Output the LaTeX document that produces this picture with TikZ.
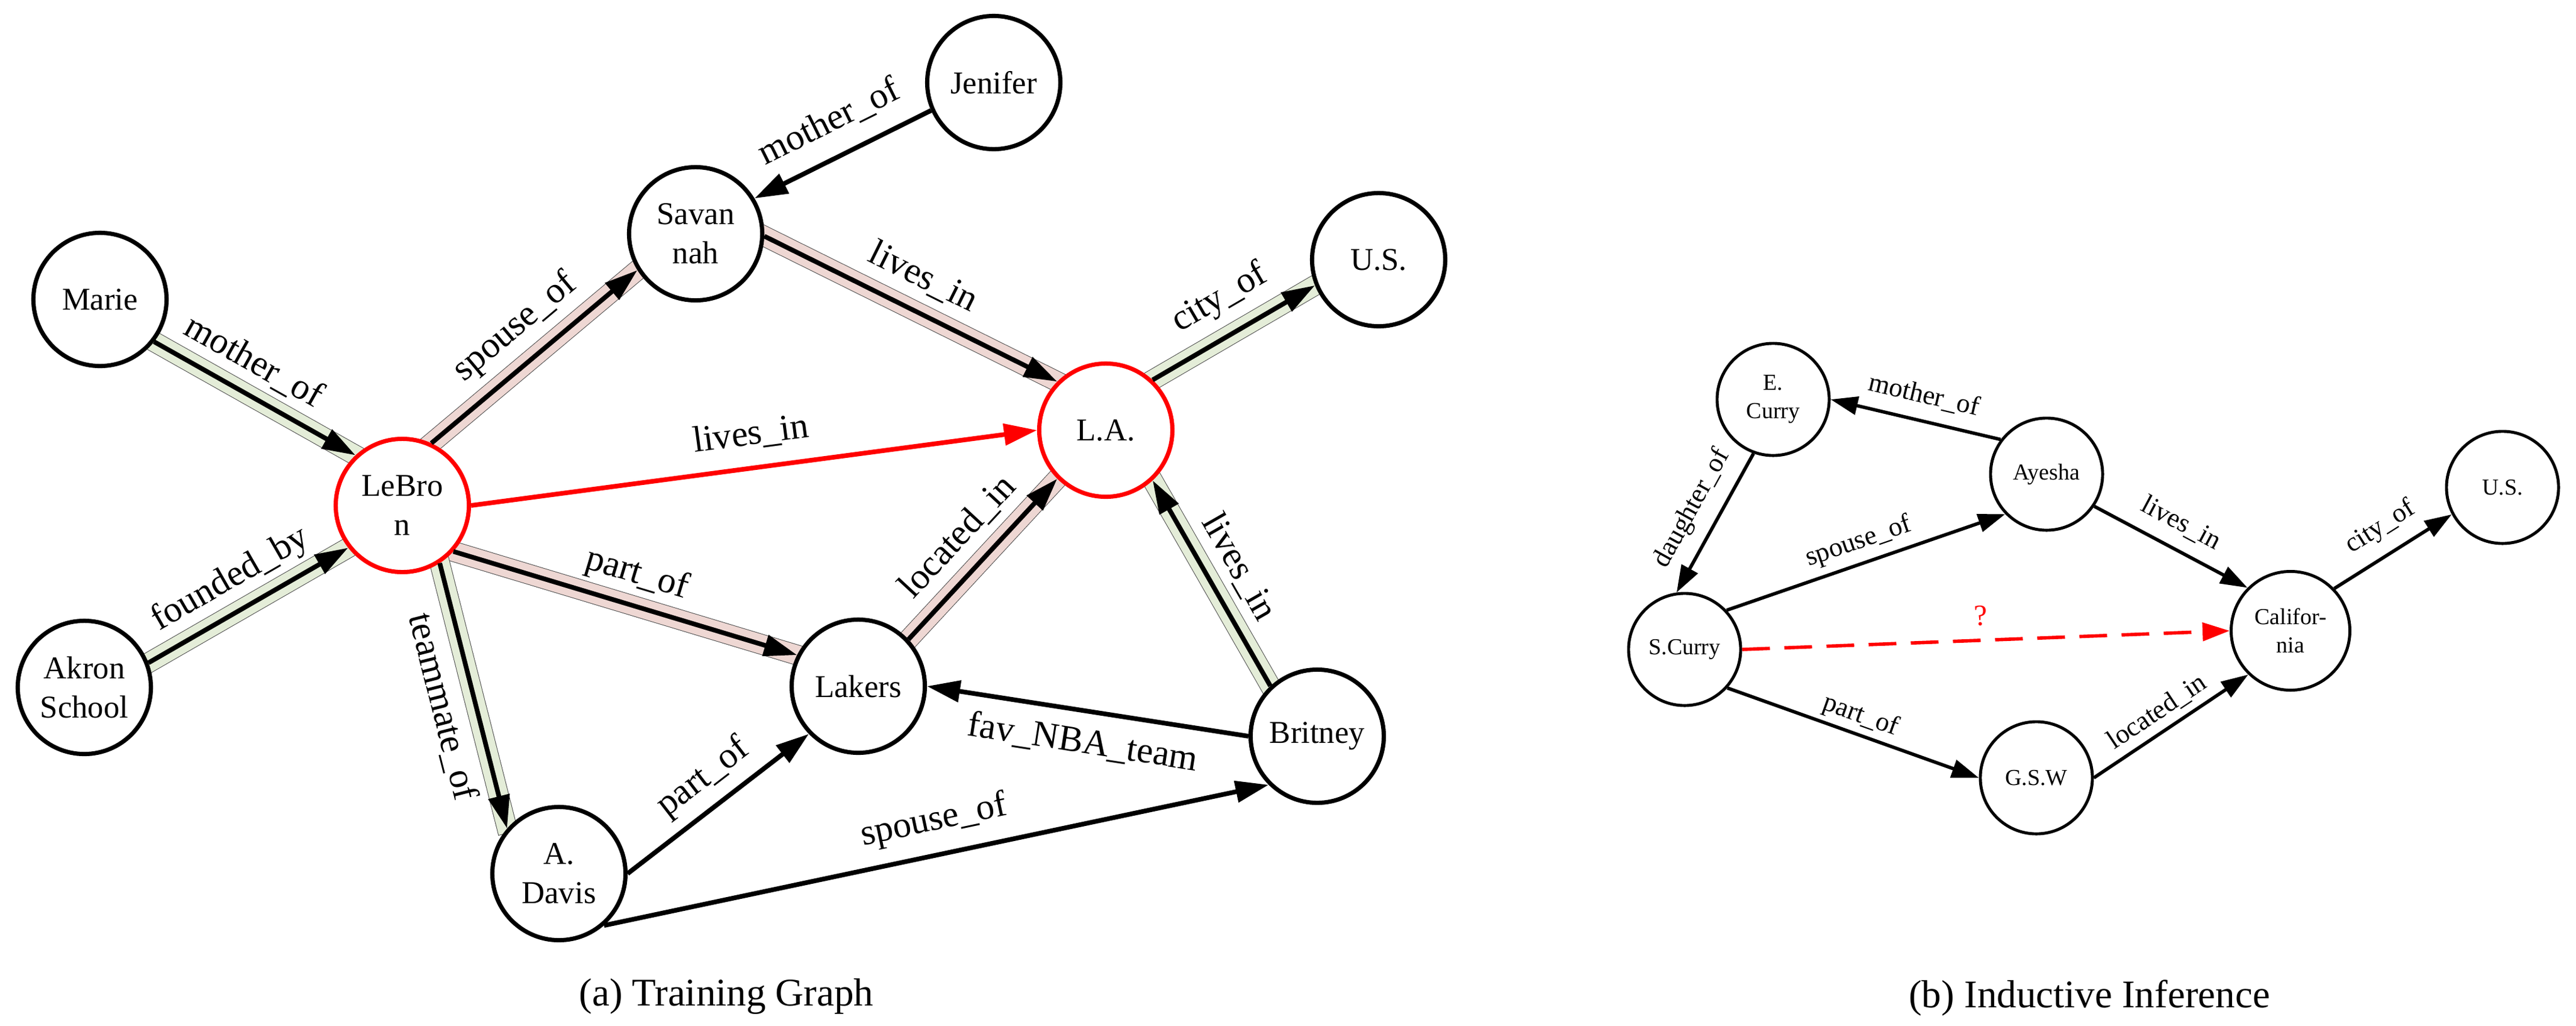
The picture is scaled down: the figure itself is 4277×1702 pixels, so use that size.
\documentclass[tikz,border=0pt]{standalone}
\usepackage{fontspec}
\setmainfont{Liberation Serif}
\usetikzlibrary{arrows.meta}
\pgfdeclarelayer{bg}
\pgfdeclarelayer{paper}
\pgfsetlayers{paper,bg,main}
\definecolor{hgreen}{RGB}{228,237,216}
\definecolor{hpink}{RGB}{238,215,211}
\newcommand{\myhalo}[3]{%
  \draw[line width=0.34cm, black!70, shorten <=-0.3cm, shorten >=-0.08cm] (#2) -- (#3);
  \draw[line width=0.32cm, #1, shorten <=-0.3cm, shorten >=-0.07cm] (#2) -- (#3);}
\begin{document}
\begin{tikzpicture}[x=0.01cm, y=-0.01cm,
  nodeA/.style={circle, draw, line width=2pt, minimum size=2.21cm, inner sep=0pt, fill=white, align=center, font=\fontsize{15}{18.5}\selectfont},
  nodeB/.style={circle, draw, line width=1.4pt, minimum size=1.86cm, inner sep=0pt, fill=white, align=center, font=\fontsize{10.8}{13.4}\selectfont},
  arrA/.style={line width=2.2pt, -{Triangle[length=0.55cm,width=0.35cm]}},
  arrB/.style={line width=1.6pt, -{Triangle[length=0.45cm,width=0.30cm]}},
  labA/.style={sloped, inner sep=0pt, font=\fontsize{17.3}{20}\selectfont},
  labB/.style={sloped, inner sep=0pt, font=\fontsize{12.8}{15}\selectfont},
]
\useasboundingbox (0,0) rectangle (4277,1702);
\begin{pgfonlayer}{paper}
\fill[white] (0,0) rectangle (4277,1702);
\end{pgfonlayer}

% ---------- (a) nodes
\node[nodeA] (mar) at (166,497) {Marie};
\node[nodeA, draw=red] (leb) at (668,839) {LeBro\\n};
\node[nodeA] (sav) at (1155,388) {Savan\\nah};
\node[nodeA] (jen) at (1650,137) {Jenifer};
\node[nodeA, draw=red] (la) at (1836,714) {L.A.};
\node[nodeA] (us) at (2289,431) {U.S.};
\node[nodeA] (akr) at (140,1141) {Akron\\School};
\node[nodeA] (dav) at (928,1450) {A.\\Davis};
\node[nodeA] (lak) at (1425,1139) {Lakers};
\node[nodeA] (bri) at (2187,1222) {Britney};

% ---------- (b) nodes
\node[nodeB] (ec) at (2944,663) {E.\\Curry};
\node[nodeB] (ay) at (3398,787) {Ayesha};
\node[nodeB] (sc) at (2797,1078) {S.Curry};
\node[nodeB, minimum size=1.97cm] (cal) at (3803,1047) {Califor-\\nia};
\node[nodeB] (us2) at (4155,809) {U.S.};
\node[nodeB] (gsw) at (3381,1291) {G.S.W};

% ---------- captions
\node[anchor=base, font=\fontsize{18.5}{22}\selectfont] (capa) at (1206,1669) {(a) Training Graph};
\node[anchor=base, font=\fontsize{18.5}{22}\selectfont] (capb) at (3469,1672) {(b) Inductive Inference};

% ---------- halos
\begin{pgfonlayer}{bg}
\myhalo{hgreen}{mar.-38}{leb.133}
\myhalo{hpink}{leb.65}{sav.-148}
\myhalo{hpink}{sav.-2.5}{la.135.7}
\myhalo{hgreen}{la.47}{us.-158.5}
\myhalo{hgreen}{akr.21.7}{leb.-142}
\myhalo{hpink}{leb.-42.6}{lak.153.6}
\myhalo{hgreen}{leb.-57.3}{dav.139}
\myhalo{hpink}{lak.43}{la.-135.7}
\myhalo{hgreen}{bri.133}{la.-47.5}
\end{pgfonlayer}

% ---------- (a) edges
\draw[arrA] (mar.-38) -- (leb.133) node[labA, pos=0.418, yshift=0.523cm] {mother\_of};
\draw[arrA] (leb.65) -- (sav.-148) node[labA, pos=0.515, yshift=0.572cm] {spouse\_of};
\draw[arrA] (jen.-156) -- (sav.31) node[labA, pos=0.489, yshift=0.585cm] {mother\_of};
\draw[arrA] (sav.-2.5) -- (la.135.7) node[labA, pos=0.491, yshift=0.563cm] {lives\_in};
\draw[arrA] (la.47) -- (us.-158.5) node[labA, pos=0.527, yshift=0.607cm] {city\_of};
\draw[arrA, red] (leb.east) -- (la.west) node[labA, black, pos=0.502, yshift=0.557cm] {lives\_in};
\draw[arrA] (akr.21.7) -- (leb.-142) node[labA, pos=0.488, yshift=0.517cm] {founded\_by};
\draw[arrA] (leb.-42.6) -- (lak.153.6) node[labA, pos=0.508, yshift=0.515cm] {part\_of};
\draw[arrA] (leb.-57.3) -- (dav.139) node[labA, pos=0.511, yshift=-0.545cm] {teammate\_of};
\draw[arrA] (lak.43) -- (la.-135.7) node[labA, pos=0.496, yshift=0.556cm] {located\_in};
\draw[arrA] (bri.133) -- (la.-47.5) node[labA, pos=0.5015, yshift=0.528cm] {lives\_in};
\draw[arrA] (bri.west) -- (lak.east) node[labA, pos=0.50, yshift=-0.525cm] {fav\_NBA\_team};
\draw[arrA] (dav.east) -- (lak.-136.4) node[labA, pos=0.518, yshift=0.49cm] {part\_of};
\draw[arrA] (dav.-49.4) -- (bri.-135.7) node[labA, pos=0.507, yshift=0.559cm] {spouse\_of};

% ---------- (b) edges
\draw[arrB] (ay.143.7) -- (ec.east) node[labB, pos=0.486, yshift=0.423cm] {mother\_of};
\draw[arrB] (ec.-110.7) -- (sc.98.4) node[labB, pos=0.49, yshift=0.448cm] {daughter\_of};
\draw[arrB] (sc.43.2) -- (ay.-136.7) node[labB, pos=0.499, yshift=0.355cm] {spouse\_of};
\draw[arrB, red, dash pattern=on 0.46cm off 0.24cm] (sc.east) -- (cal.west) node[labB, pos=0.492, yshift=0.405cm, font=\fontsize{14}{16}\selectfont] {?};
\draw[arrB] (sc.-42.7) -- (gsw.west) node[labB, pos=0.506, yshift=0.307cm] {part\_of};
\draw[arrB] (gsw.east) -- (cal.-134.4) node[labB, pos=0.48, yshift=0.322cm] {located\_in};
\draw[arrB] (ay.-34.5) -- (cal.135) node[labB, pos=0.489, yshift=0.43cm] {lives\_in};
\draw[arrB] (cal.44.5) -- (us2.-152.1) node[labB, pos=0.517, yshift=0.445cm] {city\_of};
\end{tikzpicture}
\end{document}
